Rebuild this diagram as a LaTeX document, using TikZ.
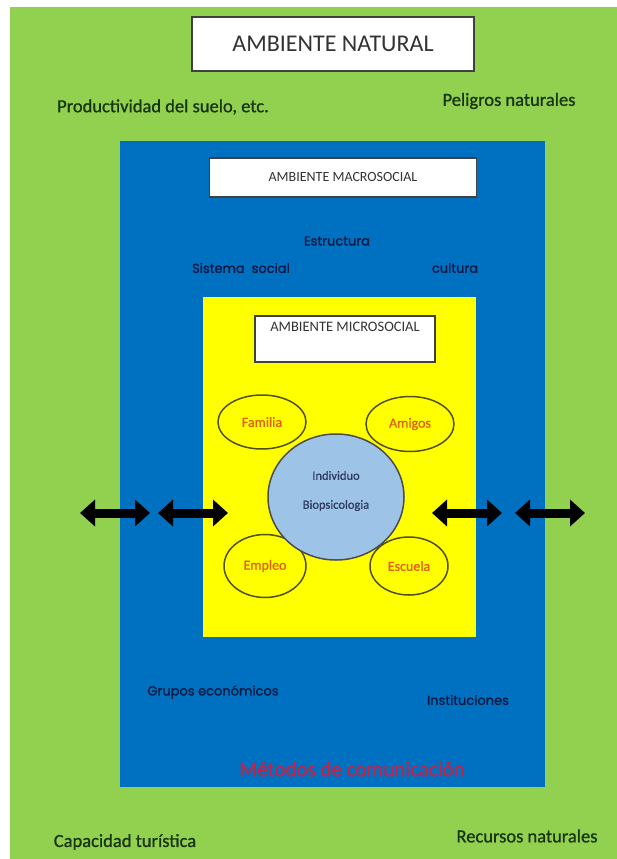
\documentclass[tikz,border=0pt]{standalone}
\usepackage{fontspec}
\setmainfont{Carlito}
\newfontfamily\geofont[FakeBold=1.2]{Poppins}
\newfontfamily\gruesa[FakeBold=0.8]{Carlito}
\usetikzlibrary{shapes.geometric, arrows.meta}
\definecolor{VerdeNatural}{RGB}{146, 208, 80}
\definecolor{AzulMacro}{RGB}{0, 112, 192}
\definecolor{AmarilloMicro}{RGB}{255, 255, 0}
\definecolor{CelesteIndividuo}{RGB}{157, 195, 230}
\definecolor{TextoVerde}{RGB}{24, 52, 14}
\definecolor{TextoAzul}{RGB}{10, 26, 66}
\definecolor{TextoRojo}{RGB}{196, 34, 72}
\definecolor{TextoNaranja}{RGB}{226, 96, 10}
\definecolor{BordeOliva}{RGB}{80, 80, 20}

\begin{document}
\begin{tikzpicture}[x=1pt, y=-1pt,
    caja/.style={draw=black!75, line width=1.5pt, fill=white, inner sep=0pt, text=black!80},
    grupo/.style={ellipse, draw=BordeOliva, line width=1.5pt, fill=AmarilloMicro, inner sep=0pt,
                  text=TextoNaranja, font=\gruesa\fontsize{14}{16}\selectfont},
    rotulo/.style={text=TextoVerde, font=\gruesa\fontsize{18.5}{20}\selectfont},
    social/.style={text=TextoAzul, font=\geofont\fontsize{13}{15}\selectfont},
    flecha/.style={line width=9pt, {Triangle[length=15pt,width=26pt]}-{Triangle[length=15pt,width=26pt]}}]
    % Fondos de los tres ambientes
    \useasboundingbox (0,0) rectangle (617,859);
    \fill[VerdeNatural] (10,7) rectangle (617,859);
    \fill[AzulMacro] (120,141) rectangle (545,787);
    \fill[AmarilloMicro] (203,297) rectangle (476,637);

    % Titulos en cajas blancas
    \node[caja, minimum width=282pt, minimum height=54pt, font=\fontsize{24}{26}\selectfont]
        (natural) at (333,44) {AMBIENTE NATURAL};
    \node[caja, minimum width=267pt, minimum height=39pt, font=\fontsize{14}{16}\selectfont]
        (macro) at (343,177.5) {AMBIENTE MACROSOCIAL};
    \node[caja, minimum width=180pt, anchor=north, inner ysep=6pt, text height=10pt, text depth=24pt,
          font=\fontsize{14.5}{16}\selectfont]
        (micro) at (345,315) {AMBIENTE MICROSOCIAL};

    % Ambiente natural
    \node[rotulo] (suelo) at (163,107) {Productividad del suelo, etc.};
    \node[rotulo] (peligros) at (509,101) {Peligros naturales};
    \node[rotulo] (turistica) at (125,842) {Capacidad turística};
    \node[rotulo] (recursos) at (527,836) {Recursos naturales};

    % Ambiente macrosocial
    \node[social] (estructura) at (337,241) {Estructura};
    \node[social] (sistema) at (241,268) {Sistema\ \ social};
    \node[social] (cultura) at (455,268) {cultura};
    \node[social] (economicos) at (213,692) {Grupos económicos};
    \node[social] (instituciones) at (468,700) {Instituciones};
    \node[text=TextoRojo, font=\gruesa\fontsize{21}{23}\selectfont] (medios) at (352,769) {Métodos de comunicación};

    % Ambiente microsocial
    \node[grupo, minimum width=88pt, minimum height=54pt] (familia) at (262,422) {Familia};
    \node[grupo, minimum width=88pt, minimum height=55pt] (amigos) at (410,424) {Amigos};
    \node[grupo, minimum width=82pt, minimum height=63pt] (empleo) at (265,566) {Empleo};
    \node[grupo, minimum width=78pt, minimum height=58pt] (escuela) at (409,566) {Escuela};
    \node[ellipse, draw=black!70, line width=1.5pt, fill=CelesteIndividuo,
          minimum width=136pt, minimum height=126pt] (individuo) at (336,497) {};
    \node[align=center, text=TextoAzul!85, font=\gruesa\fontsize{12.5}{29}\selectfont]
        (bio) at (336,491) {Individuo\\Biopsicologia};

    % Flechas de intercambio
    \coordinate (a1) at (80,513);  \coordinate (a2) at (150,513);
    \coordinate (b1) at (158,513); \coordinate (b2) at (228,513);
    \coordinate (c1) at (432,513); \coordinate (c2) at (502,513);
    \coordinate (d1) at (515,513); \coordinate (d2) at (585,513);
    \draw[flecha] (a1) -- (a2);
    \draw[flecha] (b1) -- (b2);
    \draw[flecha] (c1) -- (c2);
    \draw[flecha] (d1) -- (d2);
\end{tikzpicture}
\end{document}
